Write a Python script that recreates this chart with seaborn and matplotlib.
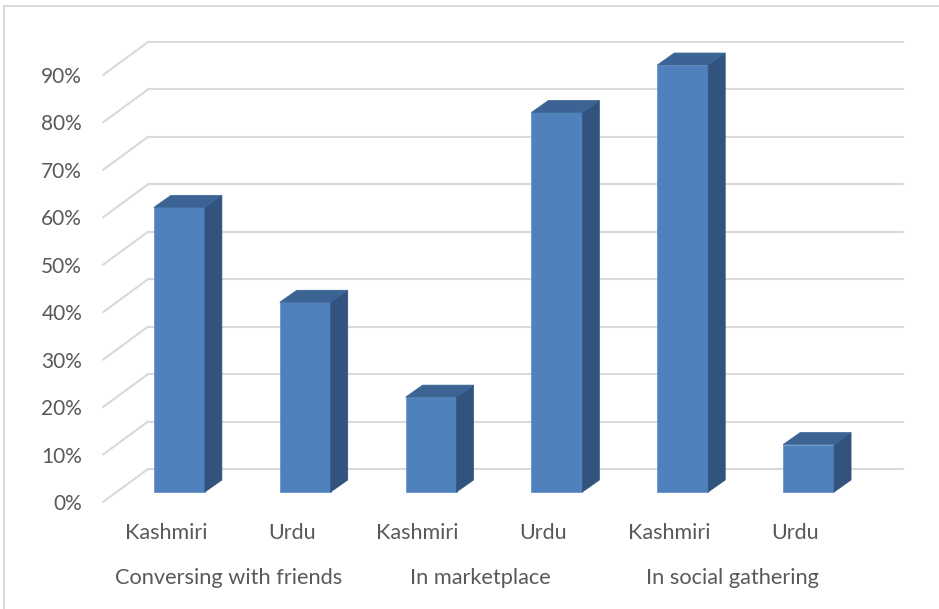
import matplotlib
matplotlib.use("Agg")
import matplotlib.pyplot as plt
from matplotlib.patches import Polygon, Rectangle
from matplotlib.transforms import blended_transform_factory
import seaborn as sns
import pandas as pd

# data
groups = ["Conversing with friends", "Conversing with friends",
          "In marketplace", "In marketplace",
          "In social gathering", "In social gathering"]
languages = ["Kashmiri", "Urdu", "Kashmiri", "Urdu", "Kashmiri", "Urdu"]
shares = [0.60, 0.40, 0.20, 0.80, 0.90, 0.10]
y_ticks = [0.0, 0.1, 0.2, 0.3, 0.4, 0.5, 0.6, 0.7, 0.8, 0.9]

df = pd.DataFrame({"group": groups, "language": languages, "share": shares})
df["slot"] = [f"{g}|{l}" for g, l in zip(groups, languages)]

sns.set_style("white")
plt.rcParams["font.family"] = ["Lato", "DejaVu Sans"]

W, H, DPI = 939, 609, 100
TEXT = "#595959"
GRID = "#D9D9D9"
FRONT = "#4F81BD"
SIDE = "#31537E"
TOP = "#3B6494"

fig = plt.figure(figsize=(W / DPI, H / DPI), dpi=DPI)
# front plane of the 3d box, in pixels
left, right, top, bottom = 103, 858, 75, 502
ax = fig.add_axes([left / W, (H - bottom) / H, (right - left) / W, (bottom - top) / H])
ax.set_xlim(-0.5, 5.5)
ax.set_ylim(0, 0.9)

# pixel -> data unit helpers
px_x = 6 / (right - left)
px_y = 0.9 / (bottom - top)

bar_shift = (13.5 * px_x, 10 * px_y)   # bars sit a bit behind the front plane
bar_depth = (17 * px_x, 12 * px_y)
wall_depth = (45 * px_x, 33 * px_y)

sns.barplot(data=df, x="slot", y="share", order=list(df["slot"]), color=FRONT,
            saturation=1, width=0.405, ax=ax, zorder=3)

# gridlines on the side and back walls
for v in y_ticks:
    ax.plot([-0.5, -0.5 + wall_depth[0]], [v, v + wall_depth[1]],
            color=GRID, lw=1.5, clip_on=False, zorder=1)
    ax.plot([-0.5 + wall_depth[0], 5.5 + wall_depth[0]],
            [v + wall_depth[1], v + wall_depth[1]],
            color=GRID, lw=1.5, clip_on=False, zorder=1)

# turn flat bars into boxes
for p in ax.patches[:]:
    x0 = p.get_x() + bar_shift[0]
    y0 = p.get_y() + bar_shift[1]
    w = p.get_width()
    h = p.get_height()
    p.set_x(x0)
    p.set_y(y0)
    p.set_edgecolor("#6A95CB")
    p.set_linewidth(0.6)
    p.set_clip_on(False)
    dx, dy = bar_depth
    side = Polygon([(x0 + w, y0), (x0 + w, y0 + h), (x0 + w + dx, y0 + h + dy),
                    (x0 + w + dx, y0 + dy)], closed=True, fc=SIDE, ec=SIDE,
                   lw=0.5, zorder=3, clip_on=False)
    lid = Polygon([(x0, y0 + h), (x0 + dx, y0 + h + dy), (x0 + w + dx, y0 + h + dy),
                   (x0 + w, y0 + h)], closed=True, fc=TOP, ec=TOP,
                  lw=0.5, zorder=3, clip_on=False)
    ax.add_patch(side)
    ax.add_patch(lid)

ax.set_yticks(y_ticks)
ax.set_yticklabels([f"{v:.0%}" for v in y_ticks])
ax.set_xticks(range(len(languages)))
ax.set_xticklabels(languages)
ax.tick_params(axis="y", length=0, pad=15, labelsize=15, labelcolor=TEXT)
ax.tick_params(axis="x", length=0, pad=15, labelsize=15.5, labelcolor=TEXT)
ax.set_xlabel("")
ax.set_ylabel("")
for s in ax.spines.values():
    s.set_visible(False)
ax.grid(False)
ax.patch.set_alpha(0)

# group labels under the languages
trans = blended_transform_factory(ax.transData, fig.transFigure)
for g in dict.fromkeys(groups):
    idx = [i for i, gg in enumerate(groups) if gg == g]
    ax.text(sum(idx) / len(idx), (H - 578) / H, g, transform=trans,
            ha="center", va="center", fontsize=15.7, color=TEXT)

# chart area border
fig.patches.append(Rectangle((3.5 / W, -0.05), 1.0, (H - 5.5) / H + 0.05,
                             transform=fig.transFigure, fill=False,
                             ec=GRID, lw=1.5))

plt.savefig("out.png", dpi=DPI)
